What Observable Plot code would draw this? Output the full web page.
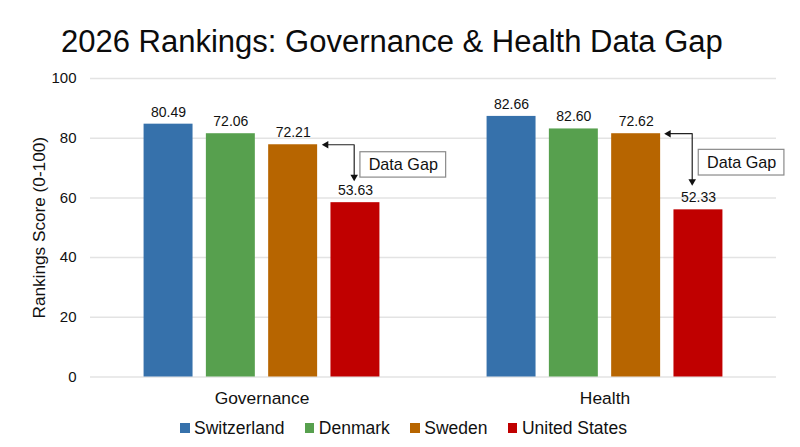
<!DOCTYPE html>
<html>
<head>
<meta charset="utf-8">
<script src="https://cdn.jsdelivr.net/npm/d3@7"></script>
<script src="https://cdn.jsdelivr.net/npm/@observablehq/plot@0.6"></script>
<style>
  html, body { margin: 0; padding: 0; background: #fff; width: 800px; height: 447px; overflow: hidden; }
  body { font-family: "Liberation Sans", Arial, sans-serif; color: #111; }
  #title { height: 60px; box-sizing: border-box; padding: 21px 0 0 61px; font-size: 31px; line-height: 42px; white-space: nowrap; color: #0c0c0c; }
  #chart svg { display: block; }
  #legend { position: absolute; left: 180px; top: 416px; display: flex; gap: 20.4px; font-size: 17.5px; line-height: 24px; }
  #legend .item { display: flex; align-items: center; gap: 4.5px; }
  #legend .swatch { width: 9.5px; height: 9.5px; display: inline-block; }
</style>
</head>
<body>
<div id="title"></div>
<div id="chart"></div>
<div id="legend"></div>
<script>
const titleText = "2026 Rankings: Governance & Health Data Gap";
const yLabel = "Rankings Score (0-100)";
const categories = ["Governance", "Health"];
const countries = ["Switzerland", "Denmark", "Sweden", "United States"];
const colors = ["#3671AB", "#57A04E", "#B76500", "#C00000"];
// bar heights as drawn in the picture
const governanceBars = [84.7, 81.5, 77.8, 58.4];
const healthBars = [87.3, 83.1, 81.5, 56.0];
// the numbers printed above the bars
const governanceLabels = ["80.49", "72.06", "72.21", "53.63"];
const healthLabels = ["82.66", "82.60", "72.62", "52.33"];
const yTicks = [0, 20, 40, 60, 80, 100];
const gapText = "Data Gap";
// data-gap annotation, in slot and score units
const gapArrowStart = [2.53, 2.52];
const gapArrowX = [2.98, 2.90];
const gapArrowEnd = [67.05, 65.55];
const gapBoxX1 = [3.08, 3.005];
const gapBoxX2 = [4.456, 4.38];
const gapBoxY1 = [66.8, 67.5];
const gapBoxY2 = [75.3, 76.1];

const barsBy = [governanceBars, healthBars];
const labelsBy = [governanceLabels, healthLabels];
const barHalf = 0.393;

const rows = categories.flatMap((group, g) => countries.map((country, i) => ({
  group, country, slot: i, score: barsBy[g][i], label: labelsBy[g][i]
})));
const gaps = categories.map((group, g) => ({
  group,
  top: barsBy[g][2],
  xs: gapArrowStart[g], xv: gapArrowX[g], end: gapArrowEnd[g],
  x1: gapBoxX1[g], x2: gapBoxX2[g], y1: gapBoxY1[g], y2: gapBoxY2[g],
  text: gapText
}));
const elbows = gaps.flatMap(d => [
  {group: d.group, x: d.xs, y: d.top},
  {group: d.group, x: d.xv, y: d.top},
  {group: d.group, x: d.xv, y: d.end}
]);

const plot = Plot.plot({
  width: 800,
  height: 355,
  marginLeft: 90,
  marginRight: 24,
  marginTop: 18,
  marginBottom: 38.5,
  style: {fontFamily: "'Liberation Sans', Arial, sans-serif", color: "#111", background: "#fff", overflow: "visible"},
  fx: {domain: categories, padding: 0, label: null},
  x: {domain: [-1.253, 4.253], axis: null},
  y: {domain: [0, 100], nice: false},
  color: {domain: countries, range: colors},
  marks: [
    Plot.gridY(yTicks, {stroke: "#e3e3e3", strokeOpacity: 1, strokeWidth: 1.5}),
    Plot.axisY({ticks: yTicks, tickSize: 0, tickPadding: 14, label: null, fontSize: 15}),
    Plot.axisY({ticks: [], tickSize: 0, label: yLabel, labelAnchor: "center", labelArrow: "none", labelOffset: 58, fontSize: 17.2}),
    Plot.axisFx({anchor: "bottom", tickSize: 0, tickPadding: 14.5, label: null, fontSize: 17.4}),
    Plot.rect(rows, {fx: "group", x1: d => d.slot - barHalf, x2: d => d.slot + barHalf, y1: 0, y2: "score", fill: "country"}),
    Plot.text(rows, {fx: "group", x: "slot", y: "score", text: "label", dy: -12, fontSize: 14, fill: "#111"}),
    Plot.line(elbows, {fx: "group", x: "x", y: "y", z: "group", stroke: "#222", strokeWidth: 1.2}),
    Plot.dot(gaps, {fx: "group", x: "xs", y: "top", symbol: "triangle", r: 2.8, rotate: -90, fill: "#111", stroke: null}),
    Plot.dot(gaps, {fx: "group", x: "xv", y: "end", symbol: "triangle", r: 2.8, rotate: 180, fill: "#111", stroke: null}),
    Plot.rect(gaps, {fx: "group", x1: "x1", x2: "x2", y1: "y1", y2: "y2", fill: "#fff", stroke: "#8a8a8a", strokeWidth: 1.2}),
    Plot.text(gaps, {fx: "group", x: d => (d.x1 + d.x2) / 2, y: d => (d.y1 + d.y2) / 2, text: "text", fontSize: 16.2, fill: "#111"})
  ]
});

document.getElementById("title").textContent = titleText;
document.getElementById("chart").appendChild(plot);
const legend = document.getElementById("legend");
countries.forEach((name, i) => {
  const item = document.createElement("span");
  item.className = "item";
  const swatch = document.createElement("span");
  swatch.className = "swatch";
  swatch.style.background = colors[i];
  const label = document.createElement("span");
  label.textContent = name;
  item.append(swatch, label);
  legend.appendChild(item);
});
</script>
</body>
</html>
